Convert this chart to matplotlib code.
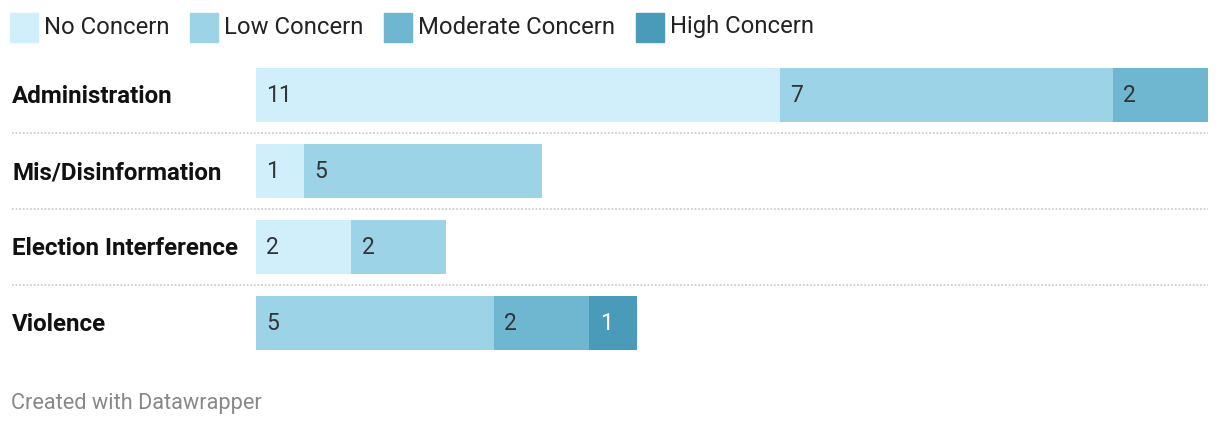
import matplotlib.pyplot as plt
import matplotlib.transforms as mtransforms
from matplotlib.patches import Rectangle

plt.rcParams['font.family'] = ['Roboto', 'DejaVu Sans']

# Data
categories = ["Administration", "Mis/Disinformation", "Election Interference", "Violence"]
levels = ["No Concern", "Low Concern", "Moderate Concern", "High Concern"]
no_concern = [11, 1, 2, 0]
low_concern = [7, 5, 2, 5]
moderate_concern = [2, 0, 0, 2]
high_concern = [0, 0, 0, 1]

colors = ["#d0effb", "#9dd3e7", "#6fb6d0", "#4a9ab9"]
label_colors = ["#333333", "#333333", "#333333", "#ffffff"]

W, H = 1220, 428
fig = plt.figure(figsize=(W / 100, H / 100), dpi=100)

# axes placed in pixel terms: x 256..1208, y 57..361 (top-down)
ax = fig.add_axes([256 / W, 1 - 361 / H, (1208 - 256) / W, (361 - 57) / H])
ax.set_xlim(0, 20)
ax.set_ylim(3.5, -0.5)
ax.axis("off")

series = [no_concern, low_concern, moderate_concern, high_concern]
left = [0] * len(categories)
for vals, col, tcol in zip(series, colors, label_colors):
    ax.barh(range(len(categories)), vals, left=left, height=0.71,
            color=col, edgecolor="none", zorder=2)
    for i, v in enumerate(vals):
        if v > 0:
            ax.annotate(str(v), (left[i], i), xytext=(7.5, 0),
                        textcoords="offset points", ha="left", va="center",
                        fontsize=16.5, color=tcol, zorder=3)
    left = [l + v for l, v in zip(left, vals)]

# category labels and dotted separators
trans = mtransforms.blended_transform_factory(fig.transFigure, ax.transData)
for i, cat in enumerate(categories):
    ax.text(12 / W, i + 0.02, cat, transform=trans, ha="left", va="center",
            fontsize=17.4, fontweight="bold", color="#111111")
    if i < len(categories) - 1:
        ax.plot([12 / W, 1208 / W], [i + 0.5, i + 0.5], transform=trans,
                color="#cfcfcf", linewidth=1.3, linestyle=(0, (1, 1)),
                clip_on=False)

# legend
legend_x = [10, 190, 384, 636]
for lx, lab, col in zip(legend_x, levels, colors):
    fig.patches.append(Rectangle((lx / W, 1 - 42 / H), 28 / W, 29 / H,
                                 transform=fig.transFigure, color=col))
    fig.text((lx + 34) / W, 1 - 27 / H, lab, ha="left", va="center",
             fontsize=17.2, color="#222222")

fig.text(11 / W, 1 - 403 / H, "Created with Datawrapper", ha="left",
         va="center", fontsize=15.7, color="#888888")

fig.savefig("out.png", dpi=100, facecolor="white")
